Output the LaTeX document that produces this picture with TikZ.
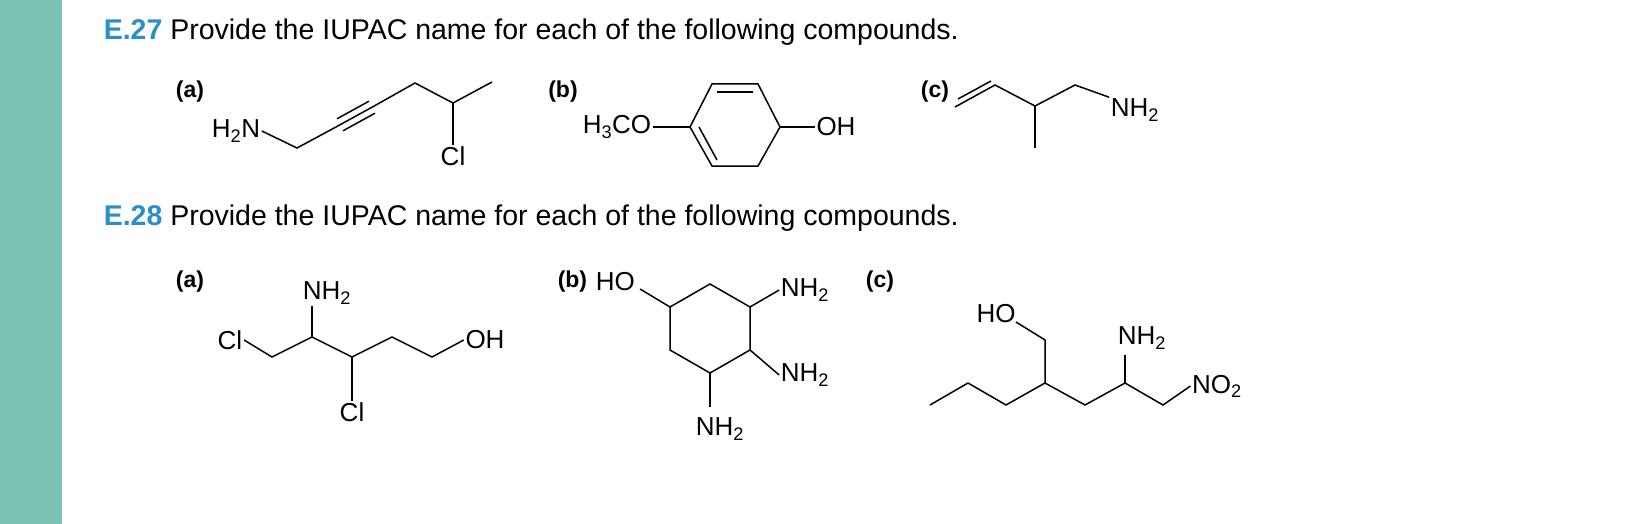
\documentclass[tikz,border=0pt]{standalone}
\usepackage{fontspec}
\setmainfont{Liberation Sans}
\usetikzlibrary{calc}
\definecolor{bar}{HTML}{7DC0B4}
\definecolor{eblue}{HTML}{2A8FC8}
\newcommand{\sub}[1]{\textsubscript{#1}}
\begin{document}
\begin{tikzpicture}[x=1pt,y=-1pt,line width=1.5pt,
  lab/.style={font=\fontsize{26}{30}\selectfont,inner sep=1pt},
  tag/.style={font=\bfseries\fontsize{23}{27}\selectfont,inner sep=0pt},
  ttl/.style={font=\fontsize{28.5}{32}\selectfont,anchor=west,inner sep=0pt}]
\useasboundingbox (0,0) rectangle (1640,524);
\fill[bar] (0,0) rectangle (62,524);
\node[ttl] (t1) at (103,32) {\textcolor{eblue}{\textbf{E.27}} Provide the IUPAC name for each of the following compounds.};
\node[ttl] (t2) at (103,218) {\textcolor{eblue}{\textbf{E.28}} Provide the IUPAC name for each of the following compounds.};
% E27 a
\node[tag] (ta) at (190,92) {(a)};
\node[lab] (n1) at (236,131) {H\sub{2}N};
\coordinate (a1) at (297,148); \coordinate (a2) at (336,127); \coordinate (a3) at (376,105);
\coordinate (a4) at (415,83); \coordinate (a5) at (453,103); \coordinate (a6) at (492,82);
\node[lab] (cl1) at (453,156) {Cl};
\draw (n1.east) -- (a1) -- (a2) -- (a3) -- (a4) -- (a5) -- (a6);
\draw (a5) -- (cl1.north);
\draw ([shift={(-3,-6)}]$(a2)!0.1!(a3)$) -- ([shift={(-3,-6)}]$(a2)!0.9!(a3)$);
\draw ([shift={(3,6)}]$(a2)!0.1!(a3)$) -- ([shift={(3,6)}]$(a2)!0.9!(a3)$);
% E27 b
\node[tag] (tb) at (563,92) {(b)};
\node[lab] (m1) at (617,127) {H\sub{3}CO};
\coordinate (r1) at (690,127); \coordinate (r2) at (712,84); \coordinate (r3) at (758,84);
\coordinate (r4) at (780,127); \coordinate (r5) at (758,166); \coordinate (r6) at (712,166);
\node[lab] (oh1) at (836,127) {OH};
\draw (m1.east) -- (r1);
\draw (r1) -- (r2) -- (r3) -- (r4) -- (r5) -- (r6) -- cycle;
\draw (r4) -- (oh1.west);
\draw (717,92) -- (753,92);
\draw (699,127) -- (717,160);
% E27 c
\node[tag] (tc) at (935,92) {(c)};
\coordinate (c1) at (955,107); \coordinate (c2) at (995,85); \coordinate (c3) at (1035,106);
\coordinate (c4) at (1075,85); \coordinate (c5) at (1035,148);
\node[lab] (n2) at (1135,110) {NH\sub{2}};
\draw (c1) -- (c2) -- (c3) -- (c4) -- (n2.north west);
\draw (c3) -- (c5);
\draw (958,99) -- (991,81);
% E28 a
\node[tag] (ua) at (190,282) {(a)};
\node[lab] (cl2) at (230,340) {Cl};
\coordinate (d1) at (272,357); \coordinate (d2) at (312,337); \coordinate (d3) at (352,357);
\coordinate (d4) at (392,337); \coordinate (d5) at (432,357);
\node[lab] (oh2) at (485,340) {OH};
\node[lab] (n3) at (327,293) {NH\sub{2}};
\node[lab] (cl3) at (352,412) {Cl};
\draw (cl2.east) -- (d1) -- (d2) -- (d3) -- (d4) -- (d5) -- (oh2.west);
\draw (d2) -- (312,306);
\draw (d3) -- (cl3.north);
% E28 b
\node[tag,anchor=west] (ub) at (557,282) {(b)};
\node[lab,anchor=west] (oh3) at (594,282) {HO};
\coordinate (h1) at (670,307); \coordinate (h2) at (710,284); \coordinate (h3) at (750,307);
\coordinate (h4) at (750,350); \coordinate (h5) at (710,373); \coordinate (h6) at (670,350);
\node[lab] (n4) at (805,290) {NH\sub{2}};
\node[lab] (n5) at (805,375) {NH\sub{2}};
\node[lab] (n6) at (720,429) {NH\sub{2}};
\draw (h1) -- (h2) -- (h3) -- (h4) -- (h5) -- (h6) -- cycle;
\draw (640,289) -- (h1);
\draw (h3) -- (n4.west); \draw (h4) -- (n5.west); \draw (h5) -- (710,407);
% E28 c
\node[tag] (uc) at (880,282) {(c)};
\coordinate (e1) at (930,405); \coordinate (e2) at (968,383); \coordinate (e3) at (1006,405);
\coordinate (e4) at (1045,383); \coordinate (e5) at (1085,405); \coordinate (e6) at (1125,383);
\coordinate (e7) at (1163,405); \coordinate (e8) at (1045,340);
\node[lab] (no2) at (1217,386) {NO\sub{2}};
\node[lab] (oh4) at (996,314) {HO};
\node[lab] (n7) at (1142,338) {NH\sub{2}};
\draw (e1) -- (e2) -- (e3) -- (e4) -- (e5) -- (e6) -- (e7) -- (no2.west);
\draw (e4) -- (e8) -- (1016,322);
\draw (e6) -- (1125,355);
\end{tikzpicture}
\end{document}
